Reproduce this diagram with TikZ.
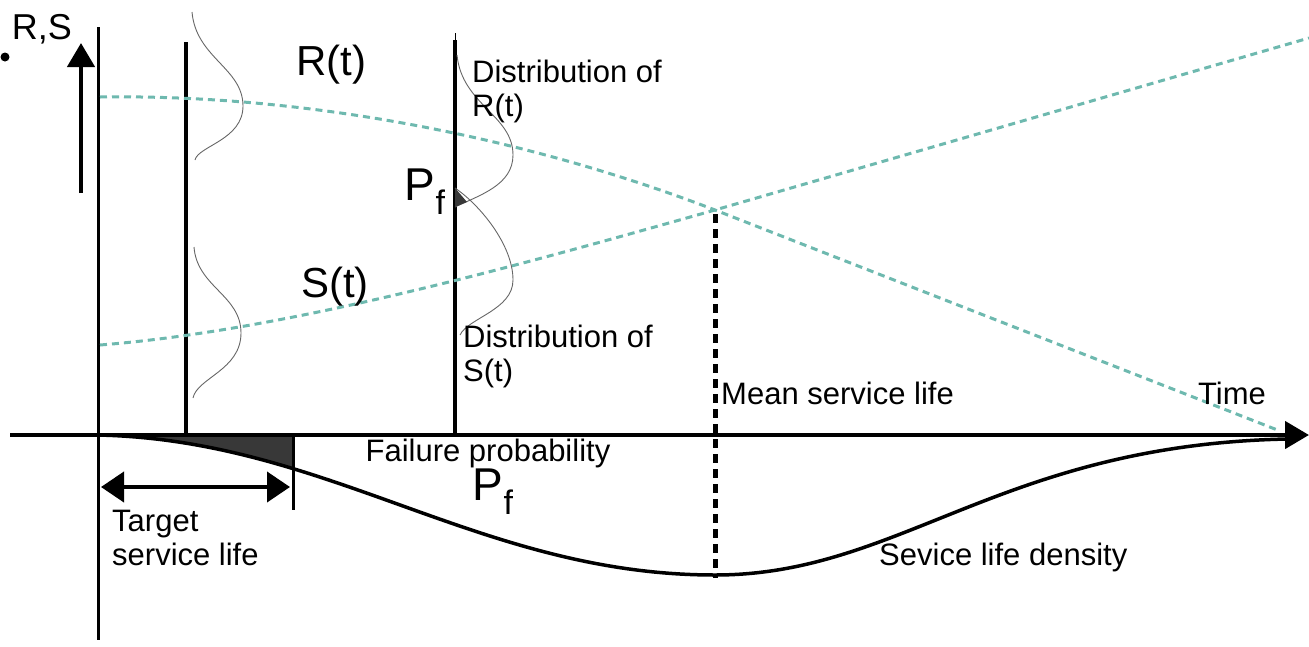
\documentclass[tikz,border=0pt]{standalone}
\usepackage{fontspec}
\setmainfont{Liberation Sans}
\usetikzlibrary{arrows.meta}
\definecolor{curveteal}{RGB}{110,185,175}
\newcommand{\pfsym}{P\raisebox{-0.3em}{\fontsize{34}{34}\selectfont f}}

\begin{document}
\begin{tikzpicture}[x=1pt, y=-1pt, >={Triangle[length=24pt,width=27pt]},
    lbl/.style={font=\fontsize{31}{34}\selectfont, inner sep=0pt, align=left},
    biglbl/.style={font=\fontsize{42}{46}\selectfont, inner sep=0pt},
    pflbl/.style={font=\fontsize{46}{46}\selectfont, inner sep=0pt},
    axisline/.style={line width=4.5pt},
    stem/.style={line width=3.5pt},
    loadline/.style={curveteal, line width=3pt, dash pattern=on 7pt off 5pt},
    bell/.style={black!60, line width=0.9pt}]
    \useasboundingbox (0,0) rectangle (1309,646);

    % Puntos de referencia
    \coordinate (axL) at (10,435);
    \coordinate (axR) at (1309,435);
    \coordinate (yaxT) at (98,27);
    \coordinate (yaxB) at (98,640);
    \coordinate (rsB) at (81,193);
    \coordinate (rsT) at (81,43);
    \coordinate (cross) at (715,210);
    \coordinate (meanB) at (715,578);
    \coordinate (tsl) at (293,435);
    \coordinate (tslB) at (293,510);

    % Densidad de vida util y probabilidad de falla (relleno)
    \begin{scope}
        \clip (98,430) rectangle (tsl |- 0,600);
        \fill[black!78] (98,435) .. controls (330,440) and (480,575) .. (715,575) -- (715,435) -- cycle;
    \end{scope}
    \draw[line width=3.5pt] (98,435) .. controls (330,440) and (480,575) .. (715,575)
        .. controls (900,575) and (1000,445) .. (1287,439);

    % Ejes
    \draw[axisline, ->] (axL) -- (axR);
    \draw[line width=3pt] (yaxT) -- (yaxB);
    \draw[line width=4.5pt, ->] (rsB) -- (rsT);
    \fill (5,57) circle (4.5);

    % Secciones verticales
    \draw[stem] (186,42) -- (186,435);
    \draw[stem] (455,40) -- (455,435);
    \draw[line width=1pt] (455,33) -- (455,42);
    \draw[line width=3pt] (tsl) -- (tslB);

    % Resistencia R(t) y solicitacion S(t)
    \draw[loadline] (100,97) .. controls (300,94) and (520,135) .. (cross) -- (1280,431);
    \draw[loadline] (100,345) .. controls (290,330) and (520,265) .. (cross) -- (1309,38);

    % Vida util media
    \draw[line width=5pt, dash pattern=on 9pt off 6pt] (cross) ++(0,4) -- (meanB);

    % Distribuciones en la primera seccion
    \draw[bell] (192,12) .. controls (196,58) and (243,68) .. (243,106)
        .. controls (243,140) and (198,146) .. (195,160);
    \draw[bell] (194,247) .. controls (197,287) and (241,295) .. (241,333)
        .. controls (241,370) and (197,378) .. (193,398);

    % Distribuciones en la segunda seccion
    \draw[bell] (457,55) .. controls (462,105) and (513,115) .. (513,155)
        .. controls (513,185) and (480,195) .. (455,207);
    \draw[bell] (455,188) .. controls (480,205) and (513,245) .. (513,280)
        .. controls (513,310) and (468,318) .. (460,335);
    \fill[black!78] (455,188) -- (467,202) -- (455,207) -- cycle;

    % Flecha de vida util objetivo
    \coordinate (tgL) at (101,487);
    \coordinate (tgR) at (290,487);
    \draw[line width=4pt, {Triangle[length=23pt,width=30pt]}-{Triangle[length=23pt,width=30pt]}] (tgL) -- (tgR);

    % Etiquetas
    \node[lbl, font=\fontsize{36}{36}\selectfont] (rslabel) at (42,29) {R,S};
    \node[biglbl] (rtlabel) at (331,65) {R(t)};
    \node[biglbl] (stlabel) at (335,287) {S(t)};
    \node[pflbl] (pfup) at (425,192) {\pfsym};
    \node[lbl, anchor=north west] (distR) at (472,60) {Distribution of\\R(t)};
    \node[lbl, anchor=north west] (distS) at (463,325) {Distribution of\\S(t)};
    \node[lbl, anchor=west] (meanlabel) at (721,393) {Mean service life};
    \node[lbl] (timelabel) at (1232,393) {Time};
    \node[lbl] (failprob) at (488,453) {Failure probability};
    \node[pflbl] (pfdown) at (493,492) {\pfsym};
    \node[lbl, anchor=north west] (target) at (112,510) {Target\\service life};
    \node[lbl, anchor=west] (density) at (879,557) {Sevice life density};
\end{tikzpicture}
\end{document}
